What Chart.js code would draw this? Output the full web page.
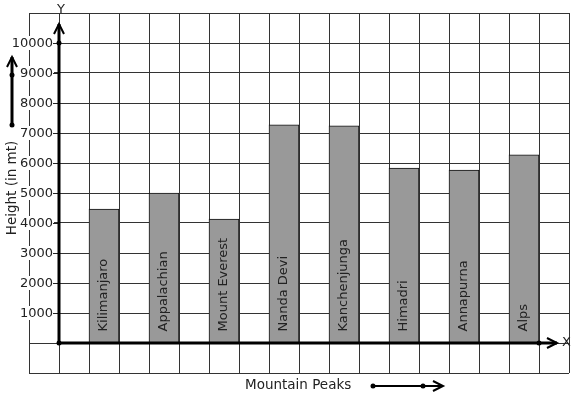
<!DOCTYPE html>
<html>
<head>
<meta charset="utf-8">
<script src="https://cdn.jsdelivr.net/npm/chart.js@4"></script>
<style>
    html, body { margin: 0; padding: 0; background: #fff; }
    #wrap { width: 577px; height: 399px; }
</style>
</head>
<body>
<div id="wrap"><canvas id="peakChart" width="577" height="399"></canvas></div>
<script>
    "use strict";

    // data
    var peaks = ["Kilimanjaro", "Appalachian", "Mount Everest", "Nanda Devi", "Kanchenjunga", "Himadri", "Annapurna", "Alps"];
    var heights = [4460, 5000, 4130, 7270, 7240, 5830, 5760, 6270];
    var yTicks = [1000, 2000, 3000, 4000, 5000, 6000, 7000, 8000, 9000, 10000];

    // grid paper: 18 columns, peaks sit on every second column from the 3rd
    var slotCount = 18;
    var slotLabels = [];
    var slotValues = [];
    for (var s = 0; s < slotCount; s++) {
        slotLabels.push("");
        slotValues.push(null);
    }
    peaks.forEach(function (name, i) {
        slotLabels[2 + i * 2] = name;
        slotValues[2 + i * 2] = heights[i];
    });

    var FONT = "13px 'DejaVu Sans'";

    function dot(ctx, x, y) {
        ctx.beginPath();
        ctx.arc(x, y, 2.5, 0, Math.PI * 2);
        ctx.fill();
    }

    function chevronUp(ctx, x, y) {
        ctx.beginPath();
        ctx.moveTo(x - 5, y + 10);
        ctx.lineTo(x, y);
        ctx.lineTo(x + 5, y + 10);
        ctx.stroke();
    }

    function chevronRight(ctx, x, y) {
        ctx.beginPath();
        ctx.moveTo(x - 10, y - 5);
        ctx.lineTo(x, y);
        ctx.lineTo(x - 10, y + 5);
        ctx.stroke();
    }

    var overlay = {
        id: "overlay",
        afterDatasetsDraw: function (chart) {
            var ctx = chart.ctx;
            var meta = chart.getDatasetMeta(0);
            ctx.save();
            ctx.font = FONT;
            ctx.fillStyle = "#222";
            ctx.textAlign = "left";
            ctx.textBaseline = "middle";
            meta.data.forEach(function (bar, i) {
                if (slotValues[i] === null) return;
                ctx.save();
                ctx.translate(bar.x, bar.base - 11);
                ctx.rotate(-Math.PI / 2);
                ctx.fillText(slotLabels[i], 0, 0);
                ctx.restore();
            });
            ctx.restore();
        },
        afterDraw: function (chart) {
            var ctx = chart.ctx;
            var xs = chart.scales.x;
            var ys = chart.scales.y;
            var ox = (xs.getPixelForValue(0) + xs.getPixelForValue(1)) / 2;
            var oy = ys.getPixelForValue(0);
            var area = chart.chartArea;

            ctx.save();
            ctx.font = FONT;
            ctx.fillStyle = "#222";
            ctx.strokeStyle = "#222";

            // y tick labels
            ctx.textAlign = "right";
            ctx.textBaseline = "middle";
            yTicks.forEach(function (v) {
                var py = ys.getPixelForValue(v);
                var w = ctx.measureText(String(v)).width;
                ctx.fillStyle = "#fff";
                ctx.fillRect(ox - 6 - w - 1, py - 7, w + 2, 14);
                ctx.fillStyle = "#222";
                ctx.fillText(String(v), ox - 6, py + 1);
                ctx.lineWidth = 1;
                ctx.beginPath();
                ctx.moveTo(ox - 6, py + 0.5);
                ctx.lineTo(ox, py + 0.5);
                ctx.stroke();
            });

            // axes
            ctx.strokeStyle = "#000";
            ctx.fillStyle = "#000";
            ctx.lineWidth = 3;
            ctx.beginPath();
            ctx.moveTo(ox, oy);
            ctx.lineTo(ox, area.top + 11);
            ctx.moveTo(ox, oy);
            ctx.lineTo(area.right - 12, oy);
            ctx.stroke();
            ctx.lineWidth = 2;
            chevronUp(ctx, ox, area.top + 11);
            chevronRight(ctx, area.right - 12, oy);
            dot(ctx, ox, oy);
            dot(ctx, ox, ys.getPixelForValue(10000));
            dot(ctx, xs.getPixelForValue(slotCount - 1) - (xs.getPixelForValue(1) - xs.getPixelForValue(0)) / 2, oy);

            ctx.fillStyle = "#222";
            ctx.textAlign = "center";
            ctx.fillText("Y", ox + 2, area.top - 3);
            ctx.textAlign = "left";
            ctx.fillText("X", area.right - 7, oy);

            // y title with arrow
            ctx.save();
            ctx.translate(12, 188);
            ctx.rotate(-Math.PI / 2);
            ctx.textAlign = "center";
            ctx.font = "13.5px 'DejaVu Sans'";
            ctx.fillText("Height (in mt)", 0, 0);
            ctx.restore();
            ctx.fillStyle = "#000";
            ctx.lineWidth = 3;
            ctx.beginPath();
            ctx.moveTo(12, 125);
            ctx.lineTo(12, 57);
            ctx.stroke();
            ctx.lineWidth = 2;
            chevronUp(ctx, 12, 57);
            dot(ctx, 12, 125);
            dot(ctx, 12, 75);

            // x title with arrow
            ctx.fillStyle = "#222";
            ctx.textAlign = "left";
            ctx.font = "13.5px 'DejaVu Sans'";
            ctx.fillText("Mountain Peaks", 245, 385);
            ctx.fillStyle = "#000";
            ctx.lineWidth = 2;
            ctx.beginPath();
            ctx.moveTo(373, 386);
            ctx.lineTo(442, 386);
            ctx.stroke();
            chevronRight(ctx, 443, 386);
            dot(ctx, 373, 386);
            dot(ctx, 423, 386);

            ctx.restore();
        }
    };

    var ctx = document.getElementById("peakChart");
    var peakChart = new Chart(ctx, {
        type: "bar",
        data: {
            labels: slotLabels,
            datasets: [{
                label: "Height (in mt)",
                data: slotValues,
                backgroundColor: "#999999",
                borderColor: "#111",
                borderWidth: 1,
                categoryPercentage: 1,
                barPercentage: 1
            }]
        },
        options: {
            responsive: false,
            animation: false,
            layout: {
                padding: { left: 29, right: 8, top: 13, bottom: 26 }
            },
            plugins: {
                legend: { display: false },
                tooltip: { enabled: false }
            },
            scales: {
                x: {
                    ticks: { display: false },
                    grid: { color: "#333", lineWidth: 1, drawTicks: false, tickLength: 0 },
                    border: { display: false }
                },
                y: {
                    min: -1000,
                    max: 11000,
                    ticks: { display: false, stepSize: 1000 },
                    grid: { color: "#333", lineWidth: 1, drawTicks: false, tickLength: 0 },
                    border: { display: false }
                }
            }
        },
        plugins: [overlay]
    });
</script>
</body>
</html>
